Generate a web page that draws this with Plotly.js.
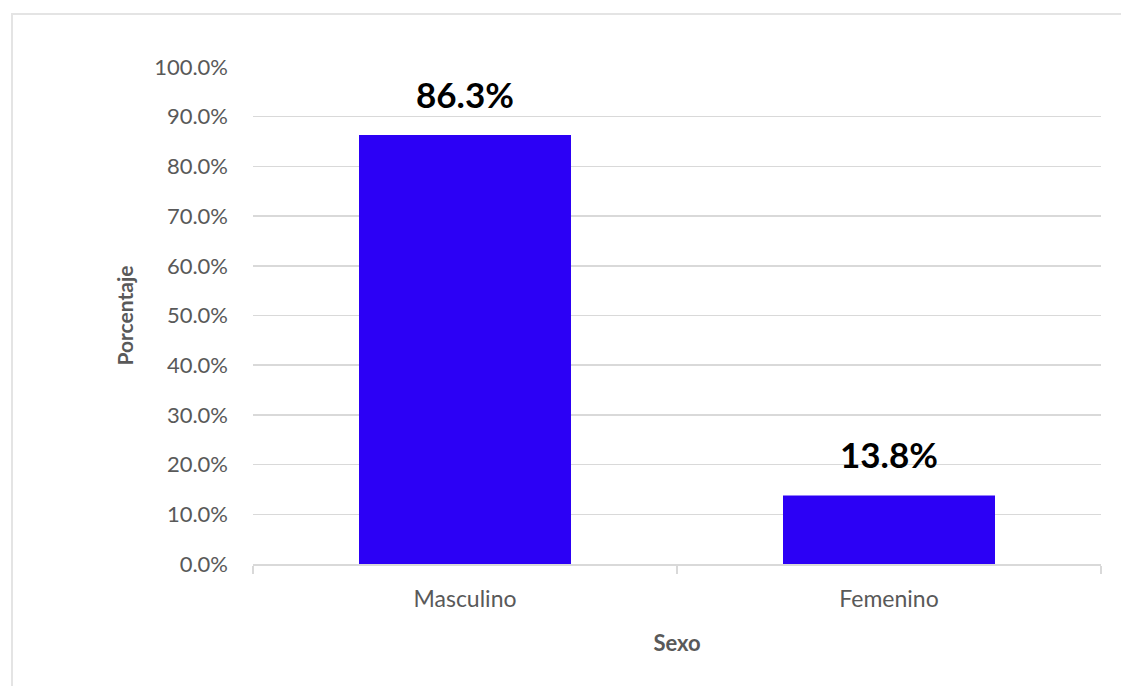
<!DOCTYPE html>
<html>
<head>
<meta charset="utf-8">
<script src="https://cdn.plot.ly/plotly-3.0.1.min.js"></script>
<style>
  html, body { margin: 0; padding: 0; background: #ffffff; }
  #wrap { position: relative; width: 1121px; height: 686px; overflow: hidden; }
  #frame { position: absolute; left: 11px; top: 13px; right: -2px; bottom: -2px;
           border-left: 2px solid #e4e4e4; border-top: 2px solid #e4e4e4; pointer-events: none; }
  #chart { position: absolute; left: 0; top: 0; width: 1121px; height: 686px; }
</style>
</head>
<body>
<div id="wrap">
  <div id="chart"></div>
  <div id="frame"></div>
</div>
<script>
// Distribución por sexo (porcentaje)
const categorias = ['Masculino', 'Femenino'];
const porcentajes = [86.3, 13.8];
const etiquetas = ['86.3%', '13.8%'];
const ticksY = [0, 10, 20, 30, 40, 50, 60, 70, 80, 90, 100];
const ticksYTexto = ['0.0%', '10.0%', '20.0%', '30.0%', '40.0%', '50.0%', '60.0%', '70.0%', '80.0%', '90.0%', '100.0%'];

const fuente = 'Lato, "Open Sans", "DejaVu Sans", sans-serif';
const gris = '#595959';

const traza = {
  type: 'bar',
  x: categorias,
  y: porcentajes,
  marker: { color: '#2c00f5', line: { width: 0 } },
  hoverinfo: 'skip'
};

const anotaciones = categorias.map((c, i) => ({
  x: c,
  y: porcentajes[i],
  xref: 'x',
  yref: 'y',
  text: '<b>' + etiquetas[i] + '</b>',
  showarrow: false,
  yanchor: 'bottom',
  yshift: 18,
  font: { family: fuente, size: 35, color: '#000000' }
}));

const layout = {
  width: 1121,
  height: 686,
  margin: { l: 253, r: 20, t: 67, b: 122 },
  paper_bgcolor: 'rgba(0,0,0,0)',
  plot_bgcolor: '#ffffff',
  showlegend: false,
  bargap: 0.5,
  xaxis: {
    type: 'category',
    tickson: 'boundaries',
    ticks: 'outside',
    ticklen: 8,
    tickwidth: 1.5,
    tickcolor: '#d9d9d9',
    showline: true,
    linecolor: '#d9d9d9',
    linewidth: 1.5,
    showgrid: false,
    tickfont: { family: fuente, size: 23, color: gris },
    ticklabelstandoff: 14,
    title: { text: '<b>Sexo</b>', font: { family: fuente, size: 22, color: gris }, standoff: 24 }
  },
  yaxis: {
    range: [0, 100],
    tickvals: ticksY,
    ticktext: ticksYTexto,
    showgrid: true,
    gridcolor: '#d9d9d9',
    gridwidth: 1.5,
    zeroline: false,
    showline: false,
    ticks: '',
    tickfont: { family: fuente, size: 22, color: gris },
    ticklabelstandoff: 24,
    title: { text: '<b>Porcentaje</b>', font: { family: fuente, size: 21, color: gris }, standoff: 14 }
  },
  annotations: anotaciones
};

Plotly.newPlot('chart', [traza], layout, { displayModeBar: false, staticPlot: true });
</script>
</body>
</html>
